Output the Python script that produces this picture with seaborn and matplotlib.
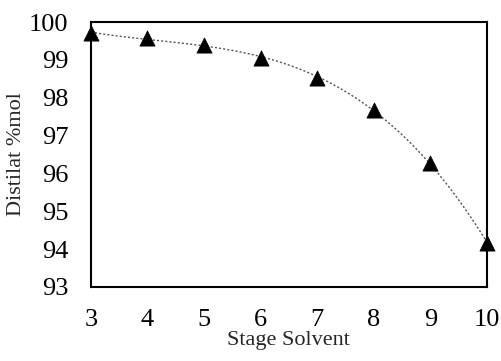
import numpy as np
import pandas as pd
import seaborn as sns
import matplotlib
matplotlib.use('Agg')
import matplotlib.pyplot as plt

stages = [3, 4, 5, 6, 7, 8, 9, 10]
distilat = [99.71, 99.58, 99.39, 99.05, 98.52, 97.68, 96.28, 94.16]

df = pd.DataFrame({'stage': stages, 'distilat': distilat})

sns.set_style('white')
plt.rcParams['font.family'] = ['Liberation Serif', 'DejaVu Serif']

fig = plt.figure(figsize=(5.02, 3.61), dpi=100)
ax = fig.add_axes([0.181, 0.205, 0.789, 0.734])

# polynomial trendline, dotted, like the spreadsheet original
sns.regplot(data=df, x='stage', y='distilat', order=3, ci=None, truncate=True,
            marker='^', color='black',
            scatter_kws={'s': 120, 'alpha': 1, 'zorder': 5, 'clip_on': False,
                         'edgecolors': 'black', 'linewidths': 0.5},
            line_kws={'color': '#555555', 'linestyle': (0, (1.5, 1.5)), 'linewidth': 1.0},
            ax=ax)

ax.set_xlim(3, 10)
ax.set_ylim(93, 100)
ax.set_xticks(range(3, 11))
ax.set_yticks(range(93, 101))
ax.tick_params(axis='both', direction='in', length=6, width=1, labelsize=19, colors='black')
ax.tick_params(axis='x', pad=16)
ax.tick_params(axis='y', pad=16)
for s in ax.spines.values():
    s.set_linewidth(1.5)
    s.set_color('black')

ax.set_xlabel('Stage Solvent', fontsize=16, labelpad=0)
ax.set_ylabel('Distilat %mol', fontsize=16, labelpad=2)

fig.savefig('out.png', dpi=100)
